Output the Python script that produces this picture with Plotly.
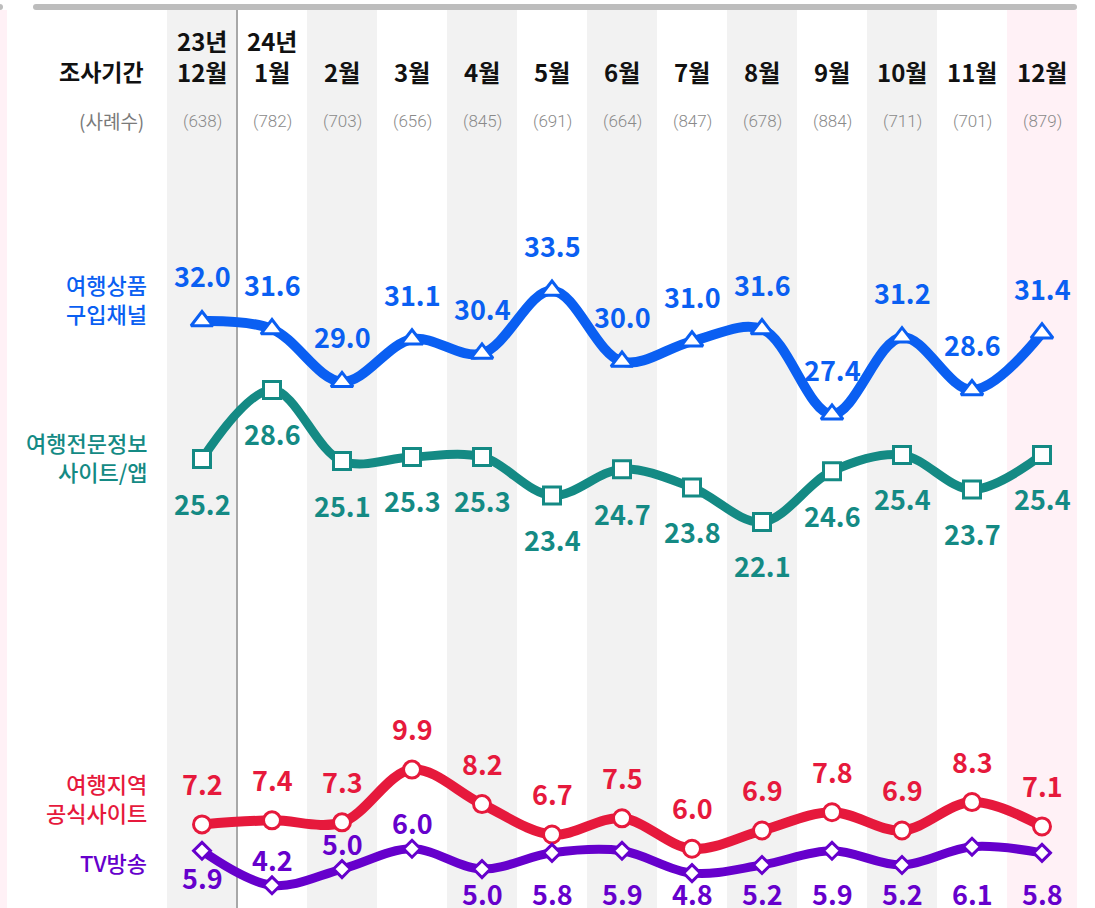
import plotly.graph_objects as go

# ---------------- data ----------------
months = ["12월", "1월", "2월", "3월", "4월", "5월", "6월", "7월", "8월", "9월", "10월", "11월", "12월"]
years = ["23년", "24년", "", "", "", "", "", "", "", "", "", "", ""]
counts = [638, 782, 703, 656, 845, 691, 664, 847, 678, 884, 711, 701, 879]

s_names = ["여행상품<br>구입채널", "여행전문정보<br>사이트/앱", "여행지역<br>공식사이트", "TV방송"]
v_product = [32.0, 31.6, 29.0, 31.1, 30.4, 33.5, 30.0, 31.0, 31.6, 27.4, 31.2, 28.6, 31.4]
v_info = [25.2, 28.6, 25.1, 25.3, 25.3, 23.4, 24.7, 23.8, 22.1, 24.6, 25.4, 23.7, 25.4]
v_region = [7.2, 7.4, 7.3, 9.9, 8.2, 6.7, 7.5, 6.0, 6.9, 7.8, 6.9, 8.3, 7.1]
v_tv = [5.9, 4.2, 5.0, 6.0, 5.0, 5.8, 5.9, 4.8, 5.2, 5.9, 5.2, 6.1, 5.8]

# label placement for the TV series (others: all above / all below)
tv_label_pos = ["below", "above", "above", "above", "row", "row", "row", "row", "row", "row", "row", "row", "row"]

# ---------------- style ----------------
W, H = 1095, 908
FONT = "Noto Sans CJK KR"
C_BLUE = "#0a5ff2"
C_TEAL = "#148a84"
C_RED = "#e6193c"
C_PURPLE = "#6600cc"
BAND = "#f2f2f2"
PINK = "#fff1f6"

n = len(months)
xs = list(range(n))

# pixel geometry -> axis ranges (column i centred at 202 + 70*i px)
X0, DX = 202.0, 70.0
Y_REF_V, Y_REF_PX, DY = 25.2, 459.0, 20.3
x_range = [(0 - X0) / DX, (W - X0) / DX]
y_range = [Y_REF_V - (H - Y_REF_PX) / DY, Y_REF_V + Y_REF_PX / DY]


def px_x(p):
    return p / W


def px_y(p):
    return 1 - p / H


fig = go.Figure()

series = [
    (v_product, C_BLUE, "triangle-up", 19, 10),
    (v_info, C_TEAL, "square", 17, 9),
    (v_region, C_RED, "circle", 17, 10),
    (v_tv, C_PURPLE, "diamond", 13, 9),
]
for vals, col, sym, msize, lw in series:
    fig.add_trace(go.Scatter(
        x=xs, y=vals, mode="lines+markers",
        line=dict(color=col, width=lw, shape="spline", smoothing=1.0),
        marker=dict(symbol=sym, size=msize, color="white", line=dict(color=col, width=3)),
        cliponaxis=False, hoverinfo="skip", showlegend=False,
    ))

ann = []
LBL = 27


def val_label(x, v, col, shift=0, yref="y", y=None):
    ann.append(dict(
        x=x, y=v if y is None else y, xref="x", yref=yref, yshift=shift,
        text=f"<b>{v:.1f}</b>", showarrow=False, xanchor="center", yanchor="middle",
        font=dict(family=FONT, size=LBL, color=col),
    ))


for i, v in enumerate(v_product):
    val_label(i, v, C_BLUE, shift=45)
for i, v in enumerate(v_info):
    val_label(i, v, C_TEAL, shift=-44)
for i, v in enumerate(v_region):
    val_label(i, v, C_RED, shift=41)
for i, v in enumerate(v_tv):
    p = tv_label_pos[i]
    if p == "above":
        val_label(i, v, C_PURPLE, shift=26)
    elif p == "below":
        val_label(i, v, C_PURPLE, shift=-27)
    else:
        ann.append(dict(
            x=i, y=px_y(893), xref="x", yref="paper",
            text=f"<b>{v:.1f}</b>", showarrow=False, xanchor="center", yanchor="middle",
            font=dict(family=FONT, size=LBL, color=C_PURPLE),
        ))

# headers
for i in range(n):
    ann.append(dict(x=i, y=px_y(71), xref="x", yref="paper", text=f"<b>{months[i]}</b>",
                    showarrow=False, xanchor="center", yanchor="middle",
                    font=dict(family=FONT, size=24, color="#111111")))
    if years[i]:
        ann.append(dict(x=i, y=px_y(41), xref="x", yref="paper", text=f"<b>{years[i]}</b>",
                        showarrow=False, xanchor="center", yanchor="middle",
                        font=dict(family=FONT, size=24, color="#111111")))
    ann.append(dict(x=i, y=px_y(121), xref="x", yref="paper", text=f"({counts[i]})",
                    showarrow=False, xanchor="center", yanchor="middle",
                    font=dict(family="Roboto", size=17, color="#8a8a8a", weight=300)))

ann.append(dict(x=px_x(146), y=px_y(71), xref="paper", yref="paper", text="<b>조사기간</b>",
                showarrow=False, xanchor="right", yanchor="middle",
                font=dict(family=FONT, size=23, color="#111111")))
ann.append(dict(x=px_x(146), y=px_y(121), xref="paper", yref="paper", text="(사례수)",
                showarrow=False, xanchor="right", yanchor="middle",
                font=dict(family=FONT, size=19, color="#7a7a7a")))

# series names on the left
name_pos = [(298, C_BLUE), (456, C_TEAL), (797, C_RED), (862, C_PURPLE)]
for (yp, col), nm in zip(name_pos, s_names):
    ann.append(dict(x=px_x(149), y=px_y(yp), xref="paper", yref="paper", text=nm,
                    showarrow=False, xanchor="right", yanchor="middle", align="right",
                    font=dict(family=FONT, size=22, color=col, weight=500)))

# background shapes
shapes = []
for i in range(n):
    if i % 2 == 0 and i < n - 1:
        shapes.append(dict(type="rect", xref="x", yref="paper", x0=i - 0.5, x1=i + 0.5,
                           y0=0, y1=px_y(10), fillcolor=BAND, line=dict(width=0), layer="below"))
shapes.append(dict(type="rect", xref="x", yref="paper", x0=n - 1.5, x1=n - 0.5,
                   y0=0, y1=px_y(10), fillcolor=PINK, line=dict(width=0), layer="below"))
# separator between 2023 and 2024
shapes.append(dict(type="line", xref="x", yref="paper", x0=0.5, x1=0.5, y0=0, y1=px_y(10),
                   line=dict(color="#a8a8a8", width=2), layer="below"))
# left pink edge
shapes.append(dict(type="rect", xref="paper", yref="paper", x0=0, x1=px_x(7), y0=0, y1=px_y(10),
                   fillcolor=PINK, line=dict(width=0), layer="below"))
shapes.append(dict(type="circle", xref="paper", yref="paper", x0=px_x(-3), x1=px_x(3),
                   y0=px_y(10), y1=px_y(4), fillcolor="#bdbdbd", line=dict(width=0), layer="below"))
# top bar with rounded ends
shapes.append(dict(type="rect", xref="paper", yref="paper", x0=px_x(36), x1=px_x(1074),
                   y0=px_y(10), y1=px_y(4), fillcolor="#bdbdbd", line=dict(width=0), layer="below"))
for cx in (36, 1074):
    shapes.append(dict(type="circle", xref="paper", yref="paper", x0=px_x(cx - 3), x1=px_x(cx + 3),
                       y0=px_y(10), y1=px_y(4), fillcolor="#bdbdbd", line=dict(width=0), layer="below"))

fig.update_layout(
    width=W, height=H,
    margin=dict(l=0, r=0, t=0, b=0),
    paper_bgcolor="white", plot_bgcolor="white",
    xaxis=dict(range=x_range, visible=False, fixedrange=True),
    yaxis=dict(range=y_range, visible=False, fixedrange=True),
    annotations=ann, shapes=shapes, showlegend=False,
)

fig.write_html("out.html", config={"displayModeBar": False},
               post_script="document.body.style.margin='0px';")
